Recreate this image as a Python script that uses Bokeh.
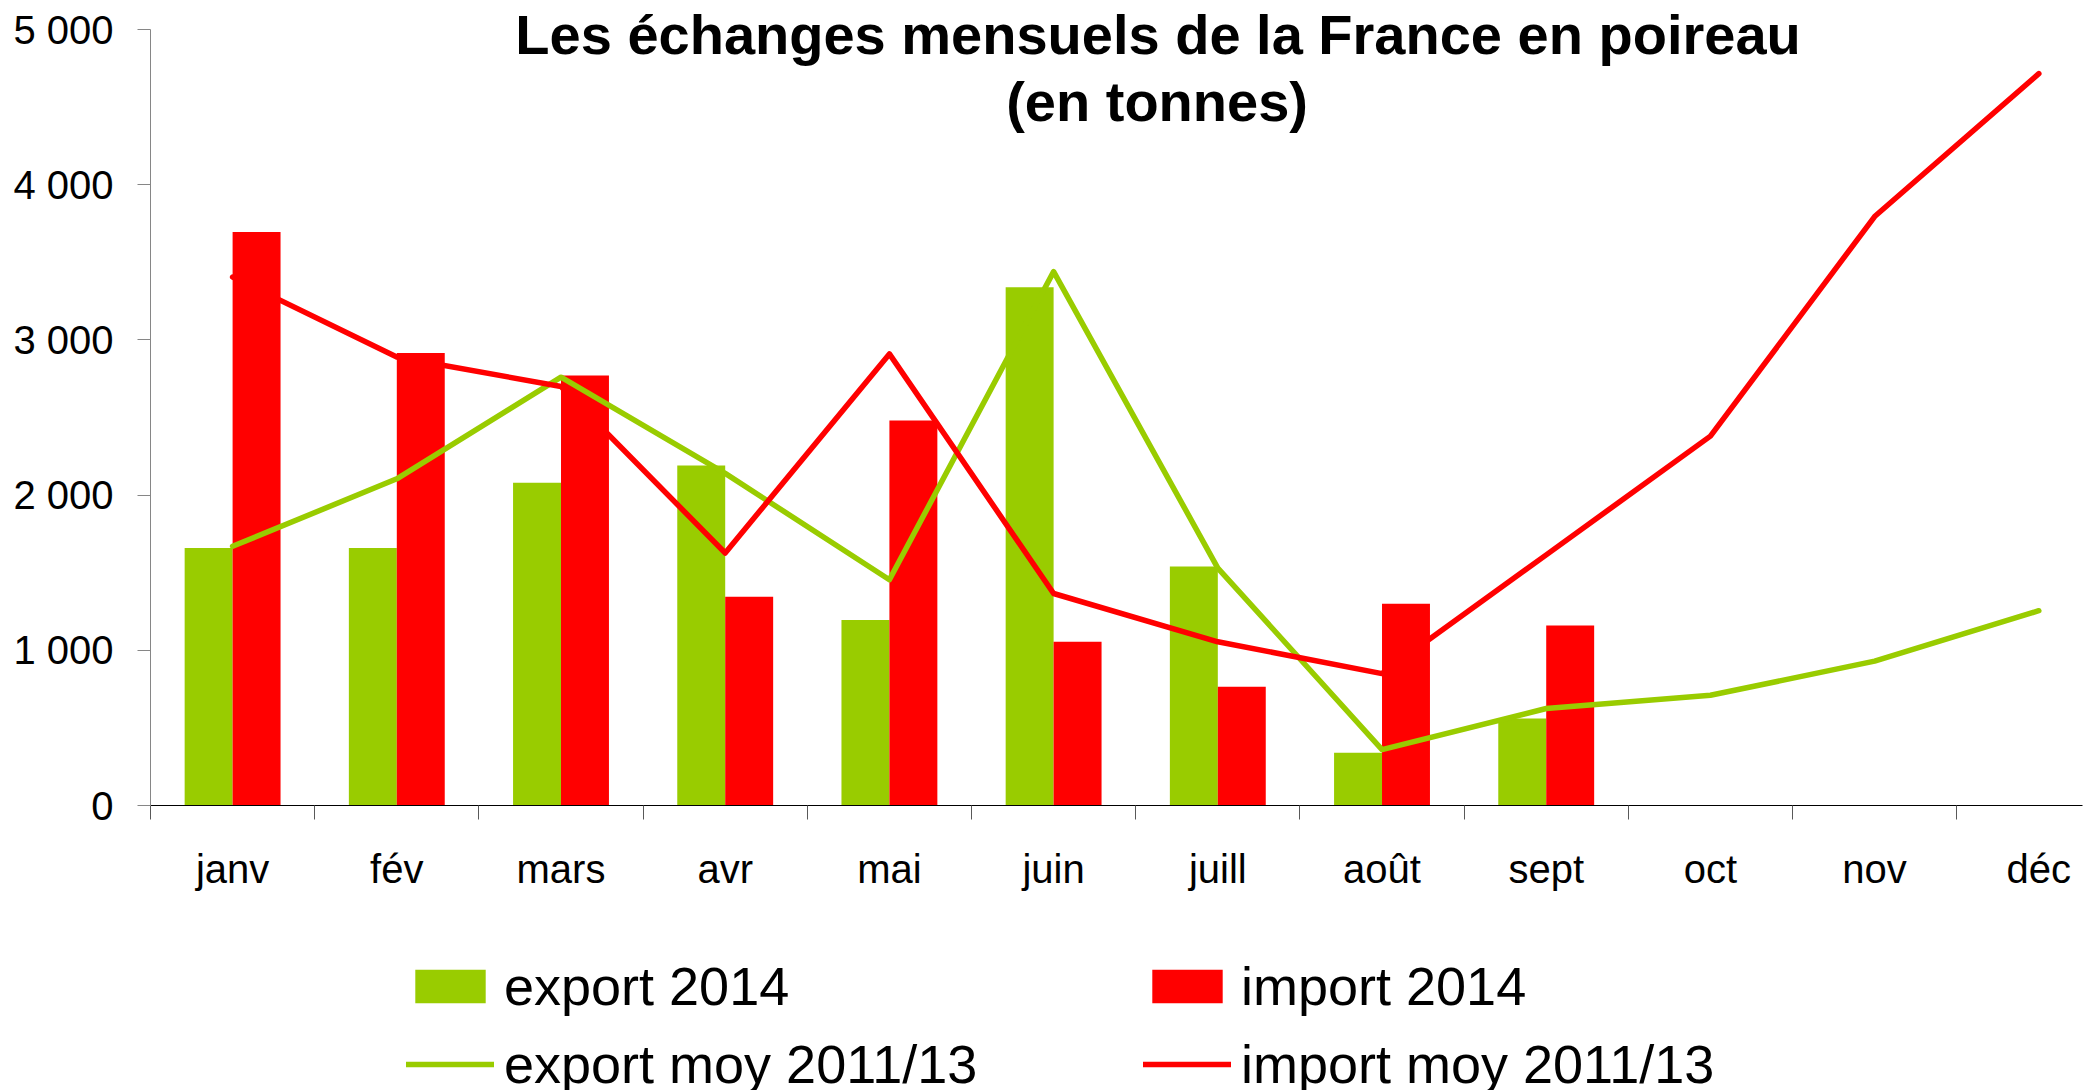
from bokeh.plotting import figure
from bokeh.layouts import column
from bokeh.models import ColumnDataSource, Range1d, FixedTicker, Label, Legend, LegendItem
from bokeh.transform import dodge
from bokeh.embed import file_html
from bokeh.resources import INLINE

# ---- data ----
months = ["janv", "fév", "mars", "avr", "mai", "juin", "juill", "août", "sept", "oct", "nov", "déc"]
export_2014 = [1660, 1660, 2080, 2190, 1195, 3340, 1540, 340, 560]
import_2014 = [3695, 2915, 2770, 1345, 2480, 1055, 765, 1300, 1160]
export_moy = [1670, 2105, 2760, 2140, 1455, 3440, 1530, 360, 625, 710, 930, 1255]
import_moy = [3405, 2890, 2700, 1627, 2910, 1366, 1055, 850, 1615, 2380, 3795, 4716]
y_ticks = [0, 1000, 2000, 3000, 4000, 5000]
y_tick_labels = ["0", "1 000", "2 000", "3 000", "4 000", "5 000"]
title_lines = ["Les échanges mensuels de la France en poireau", "(en tonnes)"]
series_names = ["export 2014", "import 2014", "export moy 2011/13", "import moy 2011/13"]

GREEN = "#99CC00"
RED = "#FF0000"
FONT = "Liberation Sans"
BW = 0.292
LW = 5.5

xs = list(range(len(months)))
bars = ColumnDataSource(dict(x=xs[:len(export_2014)], exp=export_2014, imp=import_2014))
lines = ColumnDataSource(dict(x=xs, exp=export_moy, imp=import_moy))


def add_series(fig):
    r1 = fig.vbar(x=dodge("x", -BW / 2), top="exp", width=BW, source=bars, fill_color=GREEN, line_color=None)
    r2 = fig.vbar(x=dodge("x", BW / 2), top="imp", width=BW, source=bars, fill_color=RED, line_color=None)
    r3 = fig.line(x="x", y="exp", source=lines, line_color=GREEN, line_width=LW, line_join="round", line_cap="round")
    r4 = fig.line(x="x", y="imp", source=lines, line_color=RED, line_width=LW, line_join="round", line_cap="round")
    return r1, r2, r3, r4


# ---- main chart ----
p = figure(width=2096, height=940, output_backend="svg", toolbar_location=None,
           x_range=Range1d(-0.5, 11.266), y_range=Range1d(0, 5187),
           min_border_left=150, min_border_right=14, min_border_top=0, min_border_bottom=135)
p.outline_line_color = None
p.xgrid.visible = False
p.ygrid.visible = False
p.background_fill_color = "white"
p.border_fill_color = "white"
add_series(p)

xa = p.xaxis[0]
xa.ticker = FixedTicker(ticks=xs, minor_ticks=[i - 0.5 for i in range(len(months) + 1)])
xa.major_label_overrides = {i: m for i, m in enumerate(months)}
xa.major_tick_out = 0
xa.major_tick_in = 0
xa.minor_tick_out = 14
xa.minor_tick_in = 0
xa.minor_tick_line_color = "#595959"
xa.axis_line_color = "black"
xa.axis_line_width = 1
xa.major_label_standoff = 27
xa.major_label_text_font = FONT
xa.major_label_text_font_size = "40px"
xa.major_label_text_color = "black"

ya = p.yaxis[0]
ya.ticker = FixedTicker(ticks=y_ticks)
ya.bounds = (y_ticks[0], y_ticks[-1])
ya.major_label_overrides = {t: l for t, l in zip(y_ticks, y_tick_labels)}
ya.major_tick_out = 13
ya.major_tick_in = 0
ya.minor_tick_line_color = None
ya.axis_line_color = "#868686"
ya.major_tick_line_color = "#868686"
ya.major_label_standoff = 24
ya.major_label_text_font = FONT
ya.major_label_text_font_size = "40px"
ya.major_label_text_color = "black"

p.add_layout(Label(x=5.636, y=4967, text=title_lines[0], text_align="center", text_baseline="alphabetic",
                   text_font=FONT, text_font_size="56px", text_font_style="bold", text_color="black"))
p.add_layout(Label(x=5.63, y=4538, text=title_lines[1], text_align="center", text_baseline="alphabetic",
                   text_font=FONT, text_font_size="56px", text_font_style="bold", text_color="black"))

# ---- legend strip (its series copies lie outside its ranges) ----
q = figure(width=2096, height=150, output_backend="svg", toolbar_location=None,
           x_range=Range1d(-0.5, 11.266), y_range=Range1d(100000, 100001),
           x_axis_type=None, y_axis_type=None,
           min_border_left=0, min_border_right=0, min_border_top=0, min_border_bottom=0)
q.outline_line_color = None
q.xgrid.visible = False
q.ygrid.visible = False
q.background_fill_color = "white"
q.border_fill_color = "white"
g1, g2, g3, g4 = add_series(q)


def make_legend(items, loc):
    return Legend(items=items, location=loc, orientation="vertical", glyph_width=88, glyph_height=42,
                  label_standoff=10, label_height=78, spacing=0, padding=0, margin=0,
                  border_line_color=None, background_fill_alpha=0,
                  label_text_font=FONT, label_text_font_size="54px", label_text_color="black")


q.add_layout(make_legend([LegendItem(label=series_names[0], renderers=[g1]),
                          LegendItem(label=series_names[2], renderers=[g3])], (256, -13)))
q.add_layout(make_legend([LegendItem(label=series_names[1], renderers=[g2]),
                          LegendItem(label=series_names[3], renderers=[g4])], (993, -13)))

open("out.html", "w").write(file_html(column(p, q, spacing=0), INLINE))
